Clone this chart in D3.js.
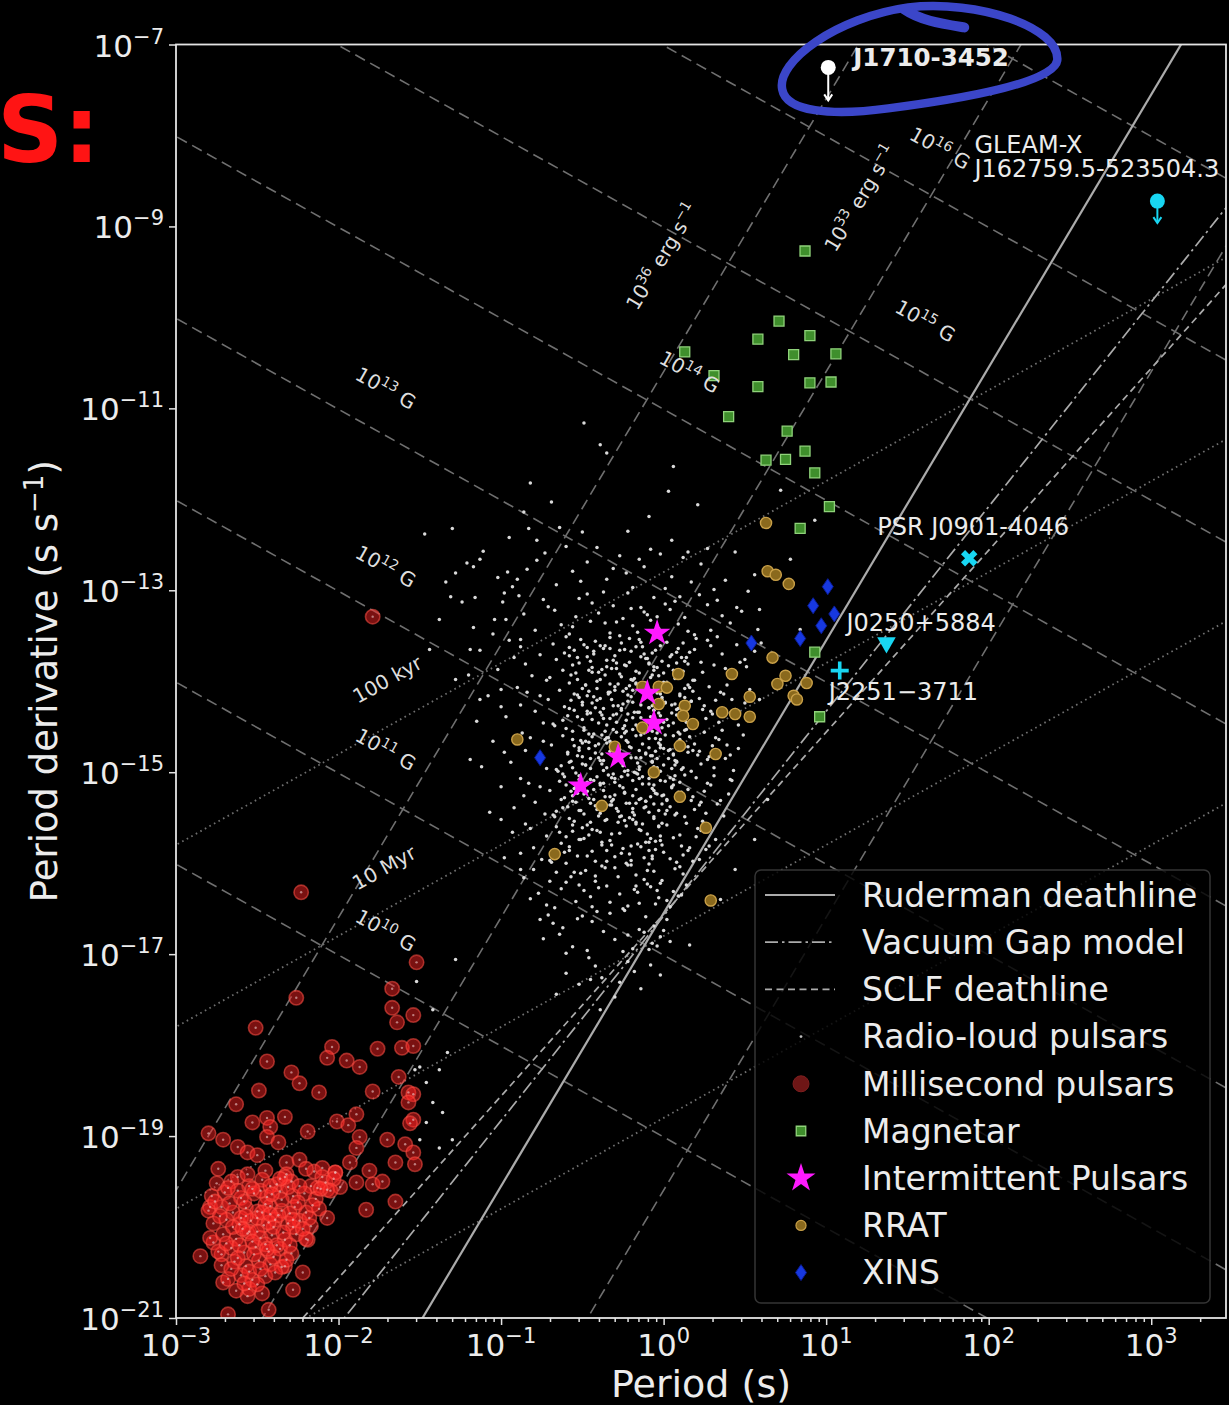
<!DOCTYPE html>
<html>
<head>
<meta charset="utf-8">
<title>P–Pdot diagram</title>
<script src="https://cdn.jsdelivr.net/npm/d3@7/dist/d3.min.js"></script>
<style>
  html, body { margin: 0; padding: 0; background: #000; }
  svg { display: block; }
  text { font-family: "DejaVu Sans", sans-serif; }
</style>
</head>
<body>
<svg id="chart" width="1229" height="1405"></svg>
<script>
// ---------------- data: [log10 P (s), log10 Pdot (s/s)] ----------------
const periodTickExps = [-3, -2, -1, 0, 1, 2, 3];
const pdotTickExps = [-7, -9, -11, -13, -15, -17, -19, -21];

const fieldLinesLogB = [10, 11, 12, 13, 14, 15, 16, 17];   // gauss
const edotLinesLog = [27, 33, 36];                           // erg s^-1
const ageLinesLogYr = [5, 7, 9, 11];                         // years

const fieldLabels = [
  { logB: 13, at: [-1.71, -10.78] }, { logB: 12, at: [-1.71, -12.74] },
  { logB: 11, at: [-1.71, -14.75] }, { logB: 10, at: [-1.71, -16.74] },
  { logB: 14, at: [0.16, -10.60] },  { logB: 15, at: [1.61, -10.04] },
  { logB: 16, at: [1.70, -8.14] }
];
const ageLabels = [
  { text: "100 kyr", at: [-1.70, -13.98] },
  { text: "10 Myr", at: [-1.72, -16.05] }
];
const edotLabels = [
  { logE: 36, at: [-0.01, -9.33] },
  { logE: 33, at: [1.21, -8.69] }
];

const radioLoud = [
  // sparse outskirts
  [-0.49,-11.16],[-0.39,-11.40],[-0.35,-11.49],[-0.82,-11.82],[-0.69,-12.03],[-0.86,-12.14],[0.06,-11.64],[0.03,-11.91],
  [-0.09,-12.19],[-0.22,-12.35],[-0.64,-12.31],[-0.83,-12.32],[-0.95,-12.42],[-1.30,-12.32],[-1.47,-12.38],[-0.78,-12.45],
  [-0.50,-12.36],[0.05,-12.45],[0.21,-12.06],[0.15,-12.58],[-0.73,-12.59],[-1.21,-12.70],[-1.17,-12.74],[-1.28,-12.81],
  [-1.34,-12.91],[-1.31,-13.07],[-1.16,-13.08],[-0.98,-13.03],[-0.96,-12.80],[-0.90,-12.88],[-0.99,-13.13],
  [0.72,-11.90],[0.93,-12.23],[0.78,-12.66],[0.84,-13.43],[0.59,-13.21],[0.50,-13.76],[0.59,-14.20],[0.41,-15.08],
  [0.56,-15.74],[0.35,-16.40],[0.16,-16.90],[-0.02,-17.23],[0.22,-15.96],[0.44,-16.07],[0.64,-15.30],
  [-1.44,-13.65],[-1.13,-14.20],[-1.19,-14.86],[-1.00,-15.52],[-0.88,-16.07],[-0.76,-16.62],[-0.45,-17.28],[-0.39,-17.61],
  [-1.13,-12.66],[-1.04,-13.32],[-1.19,-13.65],[-0.88,-13.54],[-1.38,-13.32],[-1.28,-13.98],[-1.00,-14.09],
  [-1.52,-17.30],[-1.42,-17.61],[-1.33,-18.08],[-1.50,-18.24],[-1.38,-18.27],[-1.46,-18.41],[-1.42,-18.63],[-1.36,-18.74],
  [-1.46,-18.85],[-1.50,-19.04],[-1.38,-19.13],[-1.30,-19.04],[-1.28,-17.06],[-1.53,-18.27],
  // main population
  [-0.41,-12.53],[0.17,-12.91],[-0.78,-12.67],[-0.12,-12.74],[0.44,-12.58],[-0.93,-12.96],[-0.27,-12.62],[0.05,-12.85],
  [-0.56,-12.79],[0.31,-12.99],[-1.11,-12.57],[-0.35,-12.88],[-0.02,-12.60],[-0.66,-12.94],[0.23,-12.71],[-0.19,-12.97],
  [-0.47,-12.69],[0.56,-12.83],[-0.84,-12.77],[-0.08,-12.55],[0.12,-12.64],[-0.31,-12.76],[-0.60,-12.52],[0.38,-12.89],
  [-0.23,-12.81],[-1.02,-12.86],[-0.15,-12.66],[0.01,-12.98],[-0.51,-12.90],[0.27,-12.54],
  [-0.37,-13.02],[0.09,-13.37],[-0.71,-13.18],[-0.16,-13.46],[0.33,-13.11],[-0.54,-13.29],[-0.06,-13.08],[-1.17,-13.41],
  [0.48,-13.23],[-0.29,-13.35],[-0.89,-13.06],[0.19,-13.49],[-0.44,-13.14],[-0.10,-13.27],[0.58,-13.43],[-0.63,-13.38],
  [-0.22,-13.03],[0.04,-13.21],[-0.97,-13.32],[0.27,-13.16],[-0.33,-13.47],[-0.52,-13.09],[0.13,-13.30],[-0.14,-13.19],
  [-0.79,-13.44],[0.41,-13.36],[-0.03,-13.42],[-0.40,-13.25],[-1.24,-13.13],[0.22,-13.05],[-0.25,-13.31],[-0.58,-13.48],
  [0.07,-13.12],[-0.67,-13.22],[-0.19,-13.39],[0.36,-13.28],[-0.47,-13.04],[-0.08,-13.33],[0.15,-13.45],[-0.86,-13.26],
  [-0.31,-13.17],[0.52,-13.01],[-0.12,-13.24],[-0.56,-13.40],[0.01,-13.15],[-0.36,-13.36],[0.29,-13.44],[-0.74,-13.10],
  [-0.20,-13.20],[-1.05,-13.48],[0.10,-13.07],[-0.45,-13.34],[-0.27,-13.50],[0.45,-13.19],[-0.04,-13.29],
  [-0.33,-13.52],[0.06,-13.88],[-0.61,-13.69],[-0.18,-13.97],[0.29,-13.61],[-0.85,-13.81],[-0.42,-13.56],[0.14,-13.74],
  [-0.07,-13.93],[-1.13,-13.66],[0.47,-13.79],[-0.26,-13.58],[-0.54,-13.91],[0.20,-13.53],[-0.12,-13.70],[-0.72,-13.99],
  [0.38,-13.86],[-0.37,-13.64],[-0.01,-13.78],[-0.95,-13.55],[0.10,-13.95],[-0.23,-13.83],[-0.49,-13.60],[0.56,-13.67],
  [-0.15,-13.54],[-0.66,-13.76],[0.24,-13.90],[-0.30,-13.72],[0.02,-13.57],[-0.81,-13.94],[-0.44,-13.85],[0.33,-13.51],
  [-0.09,-13.81],[-0.58,-13.63],[0.16,-13.68],[-0.20,-13.98],[-1.02,-13.87],[-0.35,-13.77],[0.42,-13.96],[-0.05,-13.66],
  [-0.68,-13.59],[0.08,-13.80],[-0.27,-13.92],[-0.47,-13.73],[0.27,-13.55],[-0.13,-13.62],[-0.76,-13.71],[0.51,-13.84],
  [-0.39,-13.98],[-0.03,-13.52],[-0.56,-13.82],[0.19,-13.99],[-0.24,-13.65],[-0.88,-13.62],[0.04,-13.73],[-0.17,-13.89],
  [0.36,-13.70],[-0.51,-13.54],[-0.32,-13.86],[-1.20,-13.93],[0.12,-13.58],[-0.62,-13.88],[-0.10,-13.75],[0.23,-13.79],
  [-0.43,-13.67],[-0.21,-13.53],[-0.70,-13.96],[0.45,-13.60],[0.00,-13.91],[-0.29,-13.80],[-0.53,-13.74],[0.31,-13.82],
  [-0.14,-13.57],[-0.92,-13.74],[0.09,-13.64],[-0.40,-13.90],[-0.06,-13.84],[0.60,-13.58],[-0.36,-13.61],[-0.60,-13.51],
  [-0.28,-14.03],[0.11,-14.38],[-0.57,-14.21],[-0.13,-14.47],[0.35,-14.12],[-0.79,-14.33],[-0.41,-14.08],[0.05,-14.26],
  [-0.04,-14.44],[-1.08,-14.16],[0.44,-14.31],[-0.21,-14.05],[-0.50,-14.42],[0.22,-14.19],[-0.09,-14.29],[-0.67,-14.49],
  [0.30,-14.36],[-0.34,-14.14],[0.01,-14.23],[-0.90,-14.07],[0.14,-14.45],[-0.18,-14.34],[-0.46,-14.11],[0.50,-14.24],
  [-0.11,-14.02],[-0.61,-14.28],[0.26,-14.41],[-0.25,-14.25],[0.03,-14.09],[-0.74,-14.46],[-0.38,-14.37],[0.39,-14.04],
  [-0.06,-14.32],[-0.53,-14.15],[0.17,-14.22],[-0.16,-14.50],[-0.97,-14.39],[-0.31,-14.27],[0.46,-14.48],[-0.01,-14.18],
  [-0.64,-14.10],[0.09,-14.30],[-0.23,-14.43],[-0.44,-14.24],[0.28,-14.06],[-0.10,-14.13],[-0.71,-14.20],[0.41,-14.35],
  [-0.35,-14.48],[0.00,-14.01],[-0.55,-14.32],[0.20,-14.49],[-0.20,-14.17],[-0.84,-14.12],[0.07,-14.25],[-0.14,-14.40],
  [0.32,-14.21],[-0.48,-14.04],[-0.29,-14.36],[-1.15,-14.44],[0.13,-14.08],[-0.59,-14.38],[-0.07,-14.27],[0.24,-14.31],
  [-0.39,-14.19],[-0.17,-14.03],[-0.68,-14.47],[0.37,-14.14],[0.02,-14.42],[-0.26,-14.30],[-0.50,-14.23],[0.29,-14.33],
  [-0.12,-14.07],[-0.88,-14.26],[0.10,-14.16],[-0.37,-14.41],[-0.03,-14.35],[0.53,-14.09],[-0.33,-14.12],[-0.58,-14.02],
  [-0.22,-14.22],[0.06,-14.46],[-0.42,-14.29],[0.18,-14.11],[-0.08,-14.39],[-0.76,-14.16],[0.25,-14.27],[-0.30,-14.06],
  [-0.15,-14.34],[0.34,-14.45],[-0.52,-14.18],[-0.02,-14.14],[-0.62,-14.43],[0.15,-14.04],[-0.24,-14.49],[-0.45,-14.35],
  [0.42,-14.20],[-0.19,-14.10],[-1.00,-14.28],[0.08,-14.37],
  [-0.31,-14.53],[0.08,-14.88],[-0.55,-14.71],[-0.15,-14.97],[0.32,-14.62],[-0.77,-14.83],[-0.43,-14.58],[0.03,-14.76],
  [-0.06,-14.94],[-1.05,-14.66],[0.41,-14.81],[-0.23,-14.55],[-0.48,-14.92],[0.19,-14.69],[-0.11,-14.79],[-0.65,-14.99],
  [0.27,-14.86],[-0.36,-14.64],[-0.02,-14.73],[-0.87,-14.57],[0.12,-14.95],[-0.20,-14.84],[-0.44,-14.61],[0.46,-14.74],
  [-0.13,-14.52],[-0.59,-14.78],[0.23,-14.91],[-0.27,-14.75],[0.01,-14.59],[-0.72,-14.96],[-0.39,-14.87],[0.36,-14.54],
  [-0.08,-14.82],[-0.51,-14.65],[0.15,-14.72],[-0.18,-15.00],[-0.94,-14.89],[-0.33,-14.77],[0.43,-14.98],[-0.03,-14.68],
  [-0.62,-14.60],[0.06,-14.80],[-0.25,-14.93],[-0.46,-14.74],[0.25,-14.56],[-0.09,-14.63],[-0.69,-14.70],[0.38,-14.85],
  [-0.37,-14.98],[-0.01,-14.51],[-0.53,-14.82],[0.17,-14.99],[-0.22,-14.67],[-0.82,-14.62],[0.04,-14.75],[-0.16,-14.90],
  [0.30,-14.71],[-0.49,-14.54],[-0.30,-14.86],[-1.12,-14.94],[0.10,-14.58],[-0.57,-14.88],[-0.05,-14.77],[0.21,-14.81],
  [-0.40,-14.69],[-0.19,-14.53],[-0.66,-14.97],[0.34,-14.64],[0.00,-14.92],[-0.28,-14.80],[-0.52,-14.73],[0.28,-14.83],
  [-0.12,-14.57],[-0.85,-14.76],[0.09,-14.66],[-0.38,-14.91],[-0.04,-14.85],[0.49,-14.59],[-0.34,-14.62],[-0.60,-14.52],
  [-0.21,-14.72],[0.05,-14.96],[-0.42,-14.79],[0.16,-14.61],[-0.07,-14.89],[-0.74,-14.66],[0.22,-14.77],[-0.29,-14.56],
  [-0.14,-14.84],[0.31,-14.95],[-0.50,-14.68],[-0.02,-14.64],[-0.63,-14.93],[0.13,-14.54],[-0.24,-14.99],[-0.45,-14.85],
  [0.39,-14.70],[-0.17,-14.60],[-0.98,-14.78],[0.07,-14.87],[-0.35,-14.68],[-0.10,-14.55],[0.18,-14.76],[-0.56,-14.95],
  [-0.26,-14.90],
  [-0.34,-15.03],[0.04,-15.38],[-0.57,-15.21],[-0.18,-15.47],[0.27,-15.12],[-0.79,-15.33],[-0.45,-15.08],[-0.01,-15.26],
  [-0.09,-15.44],[-1.00,-15.16],[0.35,-15.31],[-0.26,-15.05],[-0.51,-15.42],[0.15,-15.19],[-0.14,-15.29],[-0.67,-15.49],
  [0.22,-15.36],[-0.39,-15.14],[-0.05,-15.23],[-0.88,-15.07],[0.08,-15.45],[-0.23,-15.34],[-0.47,-15.11],[0.40,-15.24],
  [-0.16,-15.02],[-0.61,-15.28],[0.19,-15.41],[-0.30,-15.25],[-0.02,-15.09],[-0.73,-15.46],[-0.42,-15.37],[0.31,-15.04],
  [-0.11,-15.32],[-0.54,-15.15],[0.11,-15.22],[-0.21,-15.50],[-0.92,-15.39],[-0.36,-15.27],[0.37,-15.48],[-0.07,-15.18],
  [-0.64,-15.10],[0.02,-15.30],[-0.28,-15.43],[-0.49,-15.24],[0.20,-15.06],[-0.13,-15.13],[-0.70,-15.20],[0.33,-15.35],
  [-0.40,-15.48],[-0.04,-15.01],[-0.56,-15.32],[0.13,-15.49],[-0.25,-15.17],[-0.83,-15.12],[0.00,-15.25],[-0.19,-15.40],
  [0.25,-15.21],[-0.52,-15.04],[-0.33,-15.36],[-1.07,-15.44],[0.06,-15.08],[-0.59,-15.38],[-0.08,-15.27],[0.17,-15.31],
  [-0.43,-15.19],[-0.22,-15.03],[-0.68,-15.47],[0.29,-15.14],[-0.03,-15.42],[-0.31,-15.30],[-0.53,-15.23],[0.23,-15.33],
  [-0.15,-15.07],[-0.86,-15.26],[0.05,-15.16],[-0.41,-15.41],[-0.06,-15.35],[0.42,-15.09],[-0.37,-15.12],[-0.62,-15.02],
  [-0.24,-15.22],[0.01,-15.46],[-0.46,-15.29],[0.10,-15.11],[-0.12,-15.39],[-0.76,-15.16],[0.18,-15.27],[-0.32,-15.06],
  [-0.17,-15.34],[0.26,-15.45],[-0.55,-15.18],[-0.06,-15.14],[-0.66,-15.43],[0.07,-15.04],[-0.27,-15.49],
  [-0.36,-15.53],[0.00,-15.88],[-0.60,-15.71],[-0.20,-15.97],[0.21,-15.62],[-0.80,-15.83],[-0.47,-15.58],[-0.05,-15.76],
  [-0.12,-15.94],[-0.93,-15.66],[0.28,-15.81],[-0.28,-15.55],[-0.53,-15.92],[0.10,-15.69],[-0.16,-15.79],[-0.69,-15.99],
  [0.15,-15.86],[-0.41,-15.64],[-0.08,-15.73],[-0.85,-15.57],[0.04,-15.95],[-0.25,-15.84],[-0.50,-15.61],[0.32,-15.74],
  [-0.19,-15.52],[-0.63,-15.78],[0.12,-15.91],[-0.33,-15.75],[-0.03,-15.59],[-0.75,-15.96],[-0.44,-15.87],[0.24,-15.54],
  [-0.14,-15.82],[-0.56,-15.65],[0.06,-15.72],[-0.23,-16.00],[-0.88,-15.89],[-0.38,-15.77],[0.18,-15.98],[-0.10,-15.68],
  [-0.66,-15.60],[-0.01,-15.80],[-0.30,-15.93],[-0.52,-15.74],[0.14,-15.56],[-0.15,-15.63],[-0.72,-15.70],[0.26,-15.85],
  [-0.42,-15.98],[-0.06,-15.51],[-0.58,-15.82],[0.08,-15.99],[-0.27,-15.67],[-0.82,-15.62],[-0.02,-15.75],[-0.21,-15.90],
  [0.20,-15.71],[-0.55,-15.54],[-0.35,-15.86],[-0.98,-15.94],[0.02,-15.58],[-0.61,-15.88],[-0.11,-15.77],[0.11,-15.81],
  [-0.46,-15.69],[-0.24,-15.53],[-0.70,-15.97],[0.23,-15.64],[-0.07,-15.92],[-0.32,-15.80],[-0.49,-15.73],[0.16,-15.83],
  [-0.17,-15.57],[-0.39,-15.66],[-0.09,-15.86],
  [-0.38,-16.03],[-0.03,-16.38],[-0.60,-16.21],[-0.22,-16.47],[0.12,-16.12],[-0.77,-16.33],[-0.48,-16.08],[-0.08,-16.26],
  [-0.15,-16.44],[-0.86,-16.16],[0.06,-16.31],[-0.30,-16.05],[-0.54,-16.42],[-0.01,-16.19],[-0.18,-16.29],[-0.67,-16.49],
  [0.09,-16.36],[-0.42,-16.14],[-0.10,-16.23],[-0.80,-16.07],[-0.05,-16.45],[-0.27,-16.34],[-0.51,-16.11],[0.14,-16.24],
  [-0.20,-16.02],[-0.63,-16.28],[0.02,-16.41],[-0.35,-16.25],[-0.06,-16.09],[-0.72,-16.46],[-0.45,-16.37],[0.10,-16.04],
  [-0.16,-16.32],[-0.57,-16.15],[-0.02,-16.22],[-0.25,-16.50],[-0.82,-16.39],[-0.40,-16.27],[0.04,-16.48],[-0.12,-16.18],
  [-0.66,-16.10],[-0.04,-16.30],[-0.33,-16.43],[-0.52,-16.24],[0.07,-16.06],[-0.17,-16.13],[-0.70,-16.20],[0.11,-16.35],
  [-0.44,-16.48],[-0.09,-16.01],
  [-0.41,-16.53],[-0.07,-16.88],[-0.62,-16.71],[-0.25,-16.97],[0.02,-16.62],[-0.74,-16.83],[-0.50,-16.58],[-0.12,-16.76],
  [-0.19,-16.94],[-0.68,-16.66],[-0.02,-16.81],[-0.33,-16.55],[-0.56,-16.92],[-0.06,-16.69],[-0.22,-16.79],[-0.60,-16.99],
  [0.04,-16.86],[-0.44,-16.64],[-0.15,-16.73],[-0.71,-16.57],[-0.09,-16.95],[-0.30,-16.84],[-0.53,-16.61],[0.00,-16.74],
  [-0.24,-16.52],[-0.64,-16.78],[-0.04,-16.91],[-0.37,-16.75],[-0.11,-16.59],[-0.47,-16.96],
  [-0.46,-17.04],[-0.14,-17.38],[-0.60,-17.21],[-0.30,-17.47],[-0.08,-17.12],[-0.52,-17.33],[-0.22,-17.08],[-0.38,-17.26],
  [-0.66,-17.44],[-0.18,-17.19],[-0.42,-17.13],[-0.27,-17.31]
];

// the crowded core of the normal-pulsar population
const radioLoudCore = [
  [-0.47,-13.63],[-0.21,-13.79],[0.08,-13.68],[-0.35,-13.84],[-0.02,-13.61],[-0.58,-13.72],[0.15,-13.81],[-0.27,-13.66],
  [-0.11,-13.75],[-0.43,-13.70],[0.03,-13.83],[-0.17,-13.62],[-0.52,-13.80],[0.11,-13.74],[-0.31,-13.77],[-0.07,-13.69],
  [-0.39,-13.61],[0.19,-13.65],[-0.24,-13.82],[-0.14,-13.73],[-0.45,-13.78],[0.05,-13.71],[-0.33,-13.64],[-0.04,-13.85],
  [-0.20,-13.67],[0.13,-13.78],[-0.55,-13.66],[-0.09,-13.80],
  [-0.38,-13.87],[-0.13,-14.05],[0.10,-13.92],[-0.50,-14.08],[-0.26,-13.95],[0.02,-14.01],[-0.44,-13.90],[-0.06,-13.88],
  [-0.33,-14.03],[0.16,-14.07],[-0.19,-13.99],[-0.57,-13.93],[-0.01,-14.09],[-0.29,-13.86],[0.07,-13.97],[-0.41,-14.00],
  [-0.15,-13.91],[-0.48,-14.04],[0.12,-13.89],[-0.23,-14.08],[-0.08,-13.96],[-0.36,-13.93],[0.04,-14.06],[-0.53,-13.98],
  [-0.17,-14.02],[-0.30,-14.10],[0.18,-13.99],[-0.03,-13.94],[-0.46,-13.88],[-0.11,-14.07],
  [-0.34,-14.12],[-0.09,-14.29],[0.13,-14.18],[-0.47,-14.33],[-0.22,-14.15],[0.01,-14.24],[-0.41,-14.21],[-0.16,-14.34],
  [-0.55,-14.14],[0.08,-14.31],[-0.28,-14.27],[-0.04,-14.13],[-0.37,-14.30],[0.17,-14.22],[-0.12,-14.19],[-0.50,-14.26],
  [-0.25,-14.11],[0.05,-14.35],[-0.43,-14.17],[-0.19,-14.23],[-0.06,-14.32],[-0.32,-14.20],[0.10,-14.14],[-0.58,-14.30],
  [-0.14,-14.26],[-0.39,-14.34],[-0.01,-14.20],[-0.26,-14.32],[0.15,-14.28],[-0.47,-14.16],
  [-0.31,-14.37],[-0.07,-14.55],[0.12,-14.42],[-0.46,-14.58],[-0.19,-14.40],[0.03,-14.49],[-0.40,-14.46],[-0.14,-14.59],
  [-0.53,-14.39],[0.09,-14.56],[-0.25,-14.52],[-0.02,-14.38],[-0.36,-14.55],[0.16,-14.47],[-0.10,-14.44],[-0.49,-14.51],
  [-0.22,-14.36],[0.06,-14.60],[-0.44,-14.42],[-0.17,-14.48],[-0.04,-14.57],[-0.29,-14.45],[0.11,-14.39],[-0.56,-14.55],
  [-0.12,-14.51],[-0.38,-14.59],[0.00,-14.45],[-0.24,-14.57],[0.14,-14.53],[-0.33,-14.41],[-0.08,-14.47],[-0.47,-14.36],
  [-0.35,-14.62],[-0.11,-14.80],[0.09,-14.67],[-0.50,-14.83],[-0.23,-14.65],[0.00,-14.74],[-0.42,-14.71],[-0.17,-14.84],
  [-0.56,-14.64],[0.06,-14.81],[-0.29,-14.77],[-0.05,-14.63],[-0.38,-14.80],[0.13,-14.72],[-0.13,-14.69],[-0.52,-14.76],
  [-0.26,-14.61],[0.03,-14.85],[-0.46,-14.67],[-0.20,-14.73],[-0.07,-14.82],[-0.32,-14.70],[0.10,-14.64],[-0.59,-14.80],
  [-0.15,-14.76],[-0.40,-14.84],[-0.02,-14.70],[-0.27,-14.82],[0.15,-14.78],[-0.48,-14.66],[-0.09,-14.73],[-0.33,-14.66],
  [-0.37,-14.87],[-0.13,-15.05],[0.07,-14.92],[-0.52,-15.08],[-0.25,-14.90],[-0.02,-14.99],[-0.45,-14.96],[-0.19,-15.09],
  [-0.58,-14.89],[0.04,-15.06],[-0.31,-15.02],[-0.07,-14.88],[-0.41,-15.05],[0.11,-14.97],[-0.15,-14.94],[-0.54,-15.01],
  [-0.28,-14.86],[0.01,-15.10],[-0.48,-14.92],[-0.22,-14.98],[-0.09,-15.07],[-0.35,-14.95],[0.08,-14.89],[-0.61,-15.05],
  [-0.17,-15.01],[-0.43,-15.09],[-0.04,-14.95],[-0.30,-15.07],[0.13,-15.03],[-0.50,-14.91],
  [-0.39,-15.12],[-0.15,-15.30],[0.05,-15.17],[-0.54,-15.33],[-0.27,-15.15],[-0.04,-15.24],[-0.47,-15.21],[-0.21,-15.34],
  [-0.60,-15.14],[0.02,-15.31],[-0.33,-15.27],[-0.09,-15.13],[-0.43,-15.30],[0.09,-15.22],[-0.17,-15.19],[-0.56,-15.26],
  [-0.30,-15.11],[-0.01,-15.35],[-0.50,-15.17],[-0.24,-15.23],[-0.11,-15.32],[-0.37,-15.20],[0.06,-15.14],[-0.63,-15.30],
  [-0.19,-15.26],[-0.45,-15.34],[-0.06,-15.20],[-0.32,-15.32],
  [-0.41,-15.37],[-0.17,-15.55],[0.02,-15.42],[-0.56,-15.58],[-0.29,-15.40],[-0.06,-15.49],[-0.49,-15.46],[-0.23,-15.59],
  [-0.62,-15.39],[-0.01,-15.56],[-0.35,-15.52],[-0.11,-15.38],[-0.45,-15.55],[0.07,-15.47],[-0.19,-15.44],[-0.58,-15.51],
  [-0.32,-15.36],[-0.03,-15.60],[-0.52,-15.42],[-0.26,-15.48],[-0.13,-15.57],[-0.39,-15.45],
  [-0.44,-15.63],[-0.20,-15.81],[-0.02,-15.70],[-0.58,-15.86],[-0.32,-15.68],[-0.09,-15.77],[-0.51,-15.74],[-0.26,-15.89],
  [-0.64,-15.66],[-0.05,-15.85],[-0.38,-15.80],[-0.14,-15.64],[-0.47,-15.92],[-0.22,-16.02],[-0.55,-16.10],[-0.35,-15.98],
  [-0.10,-16.08],[-0.42,-16.20],[-0.28,-16.15],[-0.60,-16.00],[-0.17,-16.25],[-0.49,-16.30],[-0.36,-16.05],[-0.07,-15.95]
];

const millisecond = [
  [-1.79,-13.29],[-2.23,-16.32],[-1.52,-17.09],[-2.26,-17.48],[-1.67,-17.38],[-1.67,-17.59],[-1.54,-17.67],[-2.51,-17.81],
  [-1.64,-17.75],[-2.04,-18.02],[-2.07,-18.14],[-1.95,-18.17],[-1.87,-18.24],[-1.76,-18.04],[-1.61,-18.03],[-1.54,-18.01],
  [-2.44,-18.18],[-2.29,-18.30],[-2.24,-18.42],[-2.49,-18.50],[-2.12,-18.52],[-1.79,-18.51],[-1.63,-18.35],[-1.57,-18.52],
  [-1.54,-18.54],[-1.57,-18.63],[-2.63,-18.65],[-2.33,-18.79],[-2.44,-18.80],[-2.53,-18.85],[-2.42,-18.90],[-1.54,-18.82],
  [-1.56,-18.86],[-2.80,-18.97],[-2.71,-19.04],[-2.44,-19.01],[-2.37,-19.07],[-2.19,-18.95],[-2.01,-18.84],[-1.94,-18.88],
  [-1.89,-18.76],[-1.87,-19.01],[-1.70,-19.04],[-1.59,-19.09],[-1.54,-19.18],[-1.65,-19.29],[-1.53,-19.31],[-1.89,-19.13],
  [-2.62,-19.12],[-2.56,-19.18],[-2.50,-19.21],[-2.32,-19.29],[-2.24,-19.26],[-2.15,-19.39],[-2.10,-19.35],[-2.02,-19.40],
  [-1.93,-19.29],[-1.81,-19.38],[-2.74,-19.36],[-1.89,-19.51],[-1.79,-19.53],[-1.73,-19.50],[-1.65,-19.72],[-1.83,-19.81],
  [-2.07,-19.59],[-2.13,-19.57],[-2.07,-19.90],[-2.19,-20.14],[-2.33,-20.43],[-2.22,-20.50],[-2.28,-20.69],[-2.85,-20.32],
  [-2.72,-20.30],[-2.79,-19.78],[-2.77,-20.17],[-2.71,-20.61],[-2.56,-20.76],[-2.43,-20.91],[-2.68,-20.96],[-1.99,-19.56],
  [-2.45,-19.38],[-2.32,-19.42],[-2.20,-19.36],[-2.62,-19.45],[-2.10,-19.45],[-2.02,-19.40],
  [-2.75,-19.52],[-2.66,-19.50],[-2.55,-19.55],[-2.47,-19.48],[-2.38,-19.53],[-2.29,-19.50],[-2.17,-19.55],[-2.08,-19.51],[-2.03,-19.47],
  [-2.78,-19.66],[-2.70,-19.62],[-2.60,-19.68],[-2.52,-19.63],[-2.44,-19.67],[-2.36,-19.61],[-2.28,-19.66],[-2.21,-19.63],[-2.14,-19.69],[-2.05,-19.60],
  [-2.80,-19.82],[-2.72,-19.78],[-2.65,-19.84],[-2.57,-19.79],[-2.50,-19.83],[-2.42,-19.77],[-2.35,-19.82],[-2.27,-19.78],[-2.20,-19.84],[-2.12,-19.80],
  [-2.77,-19.96],[-2.69,-19.92],[-2.61,-19.97],[-2.54,-19.93],[-2.46,-19.98],[-2.39,-19.92],[-2.31,-19.96],[-2.24,-19.93],[-2.17,-19.99],
  [-2.79,-20.12],[-2.71,-20.08],[-2.63,-20.13],[-2.56,-20.07],[-2.48,-20.12],[-2.41,-20.09],[-2.33,-20.14],[-2.26,-20.08],[-2.20,-20.13],
  [-2.74,-20.27],[-2.66,-20.23],[-2.58,-20.28],[-2.51,-20.22],[-2.43,-20.27],[-2.36,-20.24],[-2.29,-20.29],
  [-2.72,-20.42],[-2.64,-20.38],[-2.57,-20.43],[-2.49,-20.37],[-2.42,-20.41],[-2.35,-20.44],
  [-2.68,-20.57],[-2.60,-20.53],[-2.53,-20.58],[-2.45,-20.54],[-2.63,-20.70],[-2.55,-20.68],[-2.47,-20.73],
  [-2.50,-19.90],[-2.40,-20.00],[-2.45,-19.75],[-2.35,-19.70],[-2.55,-20.05],[-2.30,-19.85],[-2.60,-19.90],[-2.38,-20.20],
  [-2.48,-19.60],[-2.28,-20.00],[-2.65,-20.00],[-2.52,-20.30],[-2.42,-19.55],[-2.33,-19.45],[-2.58,-19.72],
  [-2.53,-19.58],[-2.41,-19.64],[-2.31,-19.56],[-2.62,-19.60],[-2.57,-19.88],[-2.47,-19.84],[-2.37,-19.87],[-2.25,-19.73],
  [-2.18,-19.90],[-2.67,-19.74],[-2.73,-19.88],[-2.59,-20.02],[-2.50,-20.05],[-2.43,-19.95],[-2.34,-20.06],[-2.22,-20.02],
  [-2.69,-20.18],[-2.61,-20.20],[-2.53,-20.16],[-2.45,-20.19],[-2.40,-20.33],[-2.32,-20.36],[-2.62,-20.34],[-2.55,-20.49],
  [-2.48,-20.46],[-2.39,-20.50],[-2.66,-20.46],[-2.58,-20.62],[-2.50,-20.63],[-2.42,-19.86],[-2.28,-19.92],[-2.16,-19.76],
  [-2.11,-19.58],[-2.24,-19.55],[-2.36,-19.47],[-2.56,-19.42],[-2.68,-19.57],[-2.76,-19.72],[-2.44,-20.24],[-2.30,-20.20]
];

const magnetars = [
  [0.87,-9.27],[0.71,-10.04],[0.13,-10.38],[0.58,-10.24],[0.90,-10.20],[0.80,-10.41],[1.06,-10.40],
  [0.31,-10.64],[0.58,-10.76],[0.90,-10.72],[1.03,-10.71],[0.40,-11.09],[0.76,-11.25],[0.63,-11.57],
  [0.75,-11.56],[0.87,-11.47],[0.93,-11.71],[1.02,-12.08],[0.84,-12.32],[0.93,-13.68],[0.96,-14.39]
];

const intermittent = [
  [-0.04,-13.47],[-0.10,-14.13],[-0.06,-14.46],[-0.28,-14.83],[-0.51,-15.15]
];

const rrats = [
  [0.63,-12.26],[0.64,-12.79],[0.69,-12.83],[0.77,-12.93],[0.67,-13.74],[0.42,-13.92],[0.75,-13.94],[0.70,-14.03],
  [0.88,-14.02],[0.53,-14.17],[0.80,-14.16],[0.82,-14.20],[0.36,-14.34],[0.53,-14.39],[0.09,-13.92],[-0.13,-14.06],
  [-0.03,-14.06],[0.02,-14.07],[-0.03,-14.25],[0.13,-14.27],[0.12,-14.38],[0.18,-14.47],[-0.13,-14.51],[0.10,-14.71],
  [0.32,-14.80],[-0.30,-14.72],[-0.90,-14.64],[-0.06,-15.00],[-0.38,-15.37],[0.10,-15.27],[0.26,-15.61],[-0.67,-15.90],
  [0.29,-16.41],[0.44,-14.36]
];

const xins = [
  [1.01,-12.96],[0.92,-13.17],[1.05,-13.26],[0.97,-13.39],[0.84,-13.53],[0.54,-13.58],[-0.76,-14.84]
];

// individually named sources
const namedSources = [
  { name: ["J1710-3452"], P: 10.3, Pdot: 5.6e-8, upperLimit: true, shape: "circle", color: "#ffffff", bold: true },
  { name: ["GLEAM-X", "J162759.5-523504.3"], P: 1091, Pdot: 1.9e-9, upperLimit: true, shape: "circle", color: "#18d6f2" },
  { name: ["PSR J0901-4046"], P: 75.88, Pdot: 2.25e-13, upperLimit: false, shape: "x", color: "#18d6f2" },
  { name: ["J0250+5884"], P: 23.5, Pdot: 2.72e-14, upperLimit: false, shape: "triangle", color: "#18d6f2" },
  { name: ["J2251\u22123711"], P: 12.12, Pdot: 1.31e-14, upperLimit: false, shape: "plus", color: "#18d6f2" }
];

const legendLabels = ["Ruderman deathline", "Vacuum Gap model", "SCLF deathline", "Radio-loud pulsars",
  "Millisecond pulsars", "Magnetar", "Intermittent Pulsars", "RRAT", "XINS"];

// ---------------- layout & styles ----------------
const X0 = 176, X1 = 1226, Y0 = 44.5, Y1 = 1318;
const FG = "#ececec";
const GRID = "#6f6f6f";
const DEATH = "#ababab";

const svg = d3.select("#chart");
const x = d3.scaleLog().domain([1e-3, Math.pow(10, 3.46)]).range([X0, X1]);
const y = d3.scaleLog().domain([1e-21, 1e-7]).range([Y1, Y0]);

svg.append("rect").attr("width", 1229).attr("height", 1405).attr("fill", "#000");
svg.append("defs").append("clipPath").attr("id", "plotClip")
  .append("rect").attr("x", X0).attr("y", Y0).attr("width", X1 - X0).attr("height", Y1 - Y0);

const plot = svg.append("g").attr("clip-path", "url(#plotClip)");

// ---------------- physics reference lines ----------------
const I_NS = 1e45, YEAR = 3.156e7;
const fieldPdot = logB => P => Math.pow(Math.pow(10, logB) / 3.2e19, 2) / P;
const edotPdot = logE => P => Math.pow(10, logE) * P * P * P / (4 * Math.PI * Math.PI * I_NS);
const agePdot = logT => P => P / (2 * Math.pow(10, logT) * YEAR);
const rudermanPdot = P => Math.pow(10, 3 * Math.log10(P) - 16.55);
const vacuumGapPdot = P => Math.pow(10, 2.25 * Math.log10(P) - 16.58);
const sclfPdot = P => Math.pow(10, 2 * Math.log10(P) - 16.56);

const Pspan = [1e-5, 1e5];
const linePath = fn => d3.line().x(d => x(d)).y(d => y(fn(d)))(Pspan);

const drawRef = (fn, stroke, width, dash) =>
  plot.append("path").attr("d", linePath(fn)).attr("fill", "none")
    .attr("stroke", stroke).attr("stroke-width", width).attr("stroke-dasharray", dash);

fieldLinesLogB.forEach(b => drawRef(fieldPdot(b), GRID, 1.6, "11,6"));
edotLinesLog.forEach(e => drawRef(edotPdot(e), GRID, 1.6, "11,6"));
ageLinesLogYr.forEach(t => drawRef(agePdot(t), GRID, 1.8, "1.6,3.6"));
drawRef(sclfPdot, DEATH, 1.7, "7,4.5");
drawRef(vacuumGapPdot, DEATH, 1.7, "13,4,2.5,4");
drawRef(rudermanPdot, DEATH, 2.2, null);

// ---------------- line labels ----------------
const pxPerDecX = x(10) - x(1), pxPerDecY = y(1e-8) - y(1e-7);
const slopeAngle = k => Math.atan2(-k * pxPerDecY, pxPerDecX) * 180 / Math.PI;
const labelLayer = svg.append("g").attr("fill", "#dedede").attr("font-size", 20);

function rotatedLabel(at, angle, parts) {
  const t = labelLayer.append("text")
    .attr("transform", `translate(${x(Math.pow(10, at[0]))},${y(Math.pow(10, at[1]))}) rotate(${angle})`)
    .attr("text-anchor", "middle").attr("dy", "0.35em");
  parts.forEach(p => {
    const s = t.append("tspan").text(p.t);
    if (p.sup) s.attr("font-size", 14).attr("dy", -8);
    if (p.back) s.attr("dy", 8);
  });
}
fieldLabels.forEach(l => rotatedLabel(l.at, slopeAngle(-1),
  [{ t: "10" }, { t: String(l.logB), sup: true }, { t: " G", back: true }]));
ageLabels.forEach(l => rotatedLabel(l.at, slopeAngle(1), [{ t: l.text }]));
edotLabels.forEach(l => rotatedLabel(l.at, slopeAngle(3),
  [{ t: "10" }, { t: String(l.logE), sup: true }, { t: " erg s", back: true }, { t: "\u22121", sup: true }]));

// ---------------- populations ----------------
const px = d => x(Math.pow(10, d[0])), py = d => y(Math.pow(10, d[1]));
const sym = (type, size) => d3.symbol().type(type).size(size)();
const diamond = (hw, hh) => `M0,${-hh}L${hw},0L0,${hh}L${-hw},0Z`;

plot.append("g").selectAll("circle").data(radioLoud.concat(radioLoudCore)).join("circle")
  .attr("cx", px).attr("cy", py).attr("r", 1.75).attr("fill", "#dadada");

const msp = plot.append("g");
msp.selectAll("circle.o").data(millisecond).join("circle").attr("class", "o")
  .attr("cx", px).attr("cy", py).attr("r", 7.2)
  .attr("fill", "rgba(255,35,35,0.48)").attr("stroke", "rgba(255,80,70,0.55)").attr("stroke-width", 1.6);
msp.selectAll("circle.c").data(millisecond).join("circle").attr("class", "c")
  .attr("cx", px).attr("cy", py).attr("r", 1.2).attr("fill", "rgba(235,200,200,0.6)");

plot.append("g").selectAll("path").data(magnetars).join("path")
  .attr("d", sym(d3.symbolSquare, 100))
  .attr("transform", d => `translate(${px(d)},${py(d)})`)
  .attr("fill", "#3f8f2c").attr("stroke", "#8fd27a").attr("stroke-width", 1.3);

plot.append("g").selectAll("path").data(rrats).join("path")
  .attr("d", sym(d3.symbolCircle, Math.PI * 5.6 * 5.6))
  .attr("transform", d => `translate(${px(d)},${py(d)})`)
  .attr("fill", "#8a691d").attr("stroke", "#c9a048").attr("stroke-width", 1.4);

plot.append("g").selectAll("path").data(xins).join("path")
  .attr("d", diamond(5.5, 8))
  .attr("transform", d => `translate(${px(d)},${py(d)})`)
  .attr("fill", "#1738e0").attr("stroke", "#0b1d96").attr("stroke-width", 1);

plot.append("g").selectAll("path").data(intermittent).join("path")
  .attr("d", sym(d3.symbolStar, 220))
  .attr("transform", d => `translate(${px(d)},${py(d)})`)
  .attr("fill", "#ff1aff");

// ---------------- named sources ----------------
const labelOffsets = {
  "J1710-3452": [25, -1, 0],
  "GLEAM-X": [-183, -48, 24],
  "PSR J0901-4046": [-92, -23, 0],
  "J0250+5884": [-40, -11, 0],
  "J2251\u22123711": [-11, 29, 0]
};
const arrowLength = { "J1710-3452": 33, "GLEAM-X": 22 };

const named = svg.append("g");
namedSources.forEach(s => {
  const cx = x(s.P), cy = y(s.Pdot);
  const g = named.append("g").attr("transform", `translate(${cx},${cy})`);
  if (s.upperLimit) {
    const L = arrowLength[s.name[0]];
    g.append("line").attr("x1", 0).attr("y1", 0).attr("x2", 0).attr("y2", L)
      .attr("stroke", s.color).attr("stroke-width", 2);
    g.append("path").attr("d", `M-4,${L - 6}L0,${L}L4,${L - 6}`).attr("fill", "none")
      .attr("stroke", s.color).attr("stroke-width", 2);
  }
  if (s.shape === "circle") g.append("circle").attr("r", 7.5).attr("fill", s.color);
  if (s.shape === "x") g.append("path").attr("d", sym(d3.symbolCross, 170))
    .attr("transform", "rotate(45)").attr("fill", s.color);
  if (s.shape === "triangle") g.append("path").attr("d", sym(d3.symbolTriangle, 150))
    .attr("transform", "rotate(180) translate(0,-1)").attr("fill", s.color);
  if (s.shape === "plus") g.append("path").attr("d", "M-9,0H9M0,-9V9")
    .attr("stroke", s.color).attr("stroke-width", 3.6);
  const off = labelOffsets[s.name[0]];
  s.name.forEach((line, i) => {
    named.append("text").attr("x", cx + off[0]).attr("y", cy + off[1] + i * off[2])
      .attr("fill", FG).attr("font-size", s.bold ? 24.5 : 24)
      .attr("font-weight", s.bold ? "bold" : "normal").text(line);
  });
});

// ---------------- axes ----------------
const axisG = svg.append("g");
axisG.append("rect").attr("x", X0).attr("y", Y0).attr("width", X1 - X0).attr("height", Y1 - Y0)
  .attr("fill", "none").attr("stroke", "#e4e4e4").attr("stroke-width", 1.8);

const minorP = [];
periodTickExps.forEach(e => { for (let m = 2; m <= 9; m++) { const v = m * Math.pow(10, e); if (v < x.domain()[1]) minorP.push(v); } });

const xMajor = axisG.append("g").attr("transform", `translate(0,${Y1})`)
  .call(d3.axisBottom(x).tickValues(periodTickExps.map(e => Math.pow(10, e))).tickSize(7).tickFormat(""));
const xMinor = axisG.append("g").attr("transform", `translate(0,${Y1})`)
  .call(d3.axisBottom(x).tickValues(minorP).tickSize(4).tickFormat(""));
const yMajor = axisG.append("g").attr("transform", `translate(${X0},0)`)
  .call(d3.axisLeft(y).tickValues(pdotTickExps.map(e => Math.pow(10, e))).tickSize(7).tickFormat(""));
[xMajor, xMinor, yMajor].forEach(g => {
  g.select(".domain").remove();
  g.selectAll(".tick line").attr("stroke", "#e4e4e4").attr("stroke-width", 1.5);
});

const tickText = axisG.append("g").attr("fill", FG);
periodTickExps.forEach(e => {
  const t = tickText.append("text").attr("x", x(Math.pow(10, e))).attr("y", Y1 + 38)
    .attr("text-anchor", "middle").attr("font-size", 31);
  t.append("tspan").text("10");
  t.append("tspan").attr("font-size", 21).attr("dy", -13).text(e < 0 ? "\u2212" + (-e) : String(e));
});
pdotTickExps.forEach(e => {
  const t = tickText.append("text").attr("x", X0 - 12).attr("y", y(Math.pow(10, e)) + 12)
    .attr("text-anchor", "end").attr("font-size", 31);
  t.append("tspan").text("10");
  t.append("tspan").attr("font-size", 21).attr("dy", -13).text("\u2212" + (-e));
});

axisG.append("text").attr("x", (X0 + X1) / 2).attr("y", 1397).attr("text-anchor", "middle")
  .attr("font-size", 38).attr("fill", FG).text("Period (s)");
const yl = axisG.append("text").attr("transform", `translate(57,${(Y0 + Y1) / 2}) rotate(-90)`)
  .attr("text-anchor", "middle").attr("font-size", 37).attr("fill", FG);
yl.append("tspan").text("Period derivative (s s");
yl.append("tspan").attr("font-size", 26).attr("dy", -14).text("\u22121");
yl.append("tspan").attr("dy", 14).text(")");

// ---------------- legend ----------------
const leg = svg.append("g");
leg.append("rect").attr("x", 755).attr("y", 870).attr("width", 455).attr("height", 433).attr("rx", 6)
  .attr("fill", "rgba(0,0,0,0.82)").attr("stroke", "#353535").attr("stroke-width", 1.5);
const rowY = i => 895 + i * 47.2;
const hx0 = 765, hx1 = 835, hxc = 801;
legendLabels.forEach((label, i) => {
  const cy = rowY(i);
  const g = leg.append("g");
  if (i === 0) g.append("line").attr("x1", hx0).attr("x2", hx1).attr("y1", cy).attr("y2", cy).attr("stroke", DEATH).attr("stroke-width", 2.2);
  if (i === 1) g.append("line").attr("x1", hx0).attr("x2", hx1).attr("y1", cy).attr("y2", cy).attr("stroke", DEATH).attr("stroke-width", 1.7).attr("stroke-dasharray", "13,4,2.5,4");
  if (i === 2) g.append("line").attr("x1", hx0).attr("x2", hx1).attr("y1", cy).attr("y2", cy).attr("stroke", DEATH).attr("stroke-width", 1.7).attr("stroke-dasharray", "7,4.5");
  if (i === 3) g.append("circle").attr("cx", hxc).attr("cy", cy).attr("r", 1.4).attr("fill", "#bdbdbd");
  if (i === 4) g.append("circle").attr("cx", hxc).attr("cy", cy).attr("r", 8).attr("fill", "#6e1616").attr("stroke", "#7e1f1f");
  if (i === 5) g.append("path").attr("d", sym(d3.symbolSquare, 90)).attr("transform", `translate(${hxc},${cy})`).attr("fill", "#3f8f2c").attr("stroke", "#8fd27a").attr("stroke-width", 1.3);
  if (i === 6) g.append("path").attr("d", sym(d3.symbolStar, 260)).attr("transform", `translate(${hxc},${cy})`).attr("fill", "#ff1aff");
  if (i === 7) g.append("path").attr("d", sym(d3.symbolCircle, 80)).attr("transform", `translate(${hxc},${cy})`).attr("fill", "#8a691d").attr("stroke", "#c9a048").attr("stroke-width", 1.2);
  if (i === 8) g.append("path").attr("d", diamond(5.5, 8)).attr("transform", `translate(${hxc},${cy})`).attr("fill", "#1738e0").attr("stroke", "#0b1d96");
  g.append("text").attr("x", 862).attr("y", cy).attr("dy", "0.36em").attr("font-size", 33).attr("fill", FG).text(label);
});

// ---------------- slide decorations ----------------
svg.append("text").attr("x", 100).attr("y", 162).attr("text-anchor", "end")
  .attr("font-size", 92).attr("font-weight", "bold").attr("fill", "#ff1414").text("S:");

const star = namedSources[0];
const hx = x(star.P), hy = y(star.Pdot);
const loop = svg.append("g").attr("transform", `translate(${hx},${hy})`)
  .attr("fill", "none").attr("stroke", "#3b46c9").attr("stroke-linecap", "round");
loop.append("path").attr("stroke-width", 8.5)
  .attr("d", "M-46,22 C-52,-6 8,-50 80,-60 C150,-68 232,-40 229,-7 C226,16 130,32 60,41 C2,49 -42,44 -46,22 Z");
loop.append("path").attr("stroke-width", 10)
  .attr("d", "M76,-58 C92,-47 112,-44 136,-40");
</script>
</body>
</html>
